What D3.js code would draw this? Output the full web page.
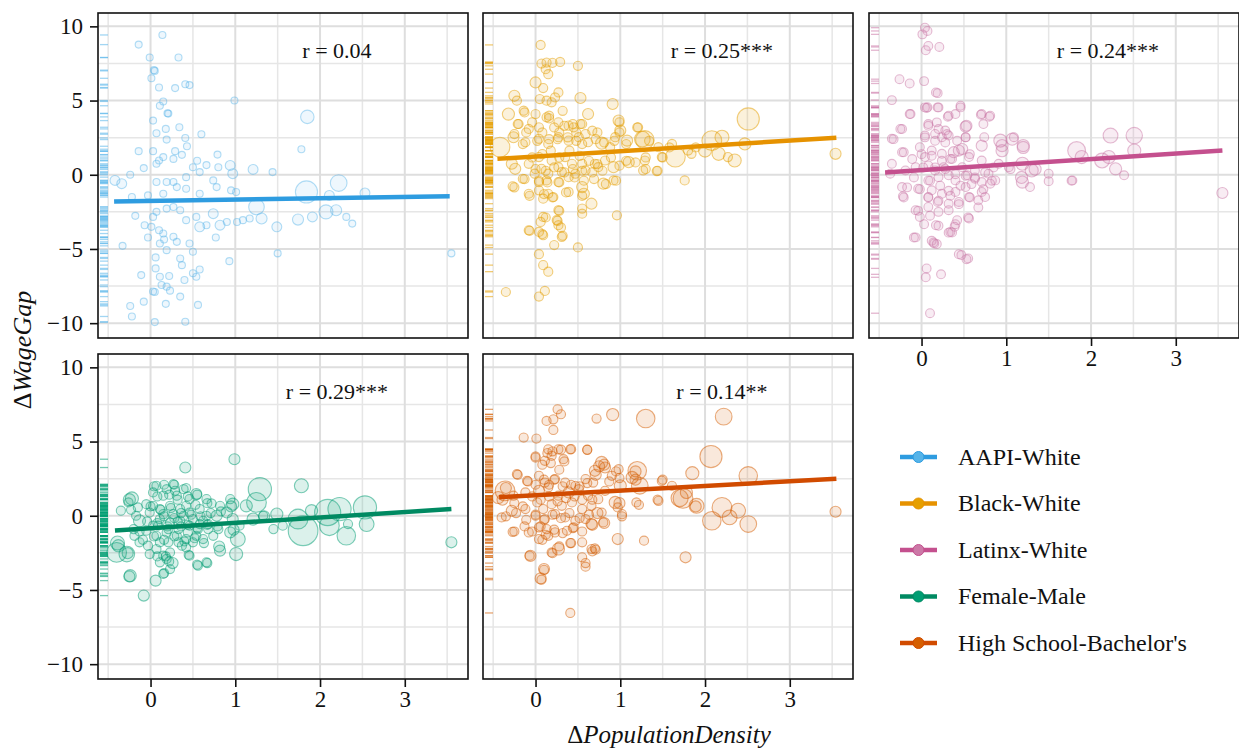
<!DOCTYPE html>
<html>
<head>
<meta charset="utf-8">
<script src="https://cdn.jsdelivr.net/npm/d3@7"></script>
<style>
  body { margin: 0; background: #fff; }
  text { font-family: "Liberation Serif", "DejaVu Serif", serif; fill: #111; }
</style>
</head>
<body>
<div id="chart"></div>
<script>
// Groups shown in the facets (same order as the legend)
const groups = ["AAPI-White", "Black-White", "Latinx-White", "Female-Male", "High School-Bachelor's"];
const groupColors = ["#56B4E9", "#E69F00", "#CC79A7", "#009E73", "#D55E00"];
const lineColors = ["#2E9CE0", "#E69200", "#C4508E", "#008A62", "#D14B00"];
const rLabels = ["r = 0.04", "r = 0.25***", "r = 0.24***", "r = 0.29***", "r = 0.14**"];
// typical bubble weight of each facet (points without their own weight)
const baseWeights = [1, 1.7, 1.6, 1.7, 1.7];

const xTicks = [0, 1, 2, 3];
const yTicks = [-10, -5, 0, 5, 10];

// [ΔPopulationDensity, ΔWageGap, weight]
const aapiPoints = [
  [0.14,9.42],[-0.14,8.77],[-0.01,7.9],[0.33,7.9],[0.04,7.05],[0.05,7.0],[0.01,6.5],[0.10,5.88],[0.29,5.84],
  [0.41,6.1],[0.46,6.04],[0.99,5.0],[0.15,4.94],[0.11,4.65],[0.2,4.14],[0.21,4.12],[0.03,3.65],[0.34,3.2],
  [0.18,3.09],[1.85,3.9,3.7],[0.07,2.8],[0.6,2.73],[0.41,2.48],[0.19,2.37],[0.43,1.92],[1.78,1.72],[-0.14,1.59],
  [0.03,1.59],[0.29,1.59],[0.79,1.36],[0.37,1.34],[0.15,1.19],[0.1,0.96],[0.27,1.07],[-0.08,0.45],[0.07,0.74],
  [0.55,0.94],[0.66,0.65],[0.8,0.51],[0.94,0.63,2],[1.21,0.36,2],[1.44,0.18],[-0.42,-0.38,2],[-0.34,-0.6,2],
  [-0.24,0],[0.07,-0.49],[0.19,-0.49],[0.27,-0.49],[0.42,-0.16],[0.5,0.51],[0.58,0.18],[0.74,-0.38],[0.97,0.07,2],
  [0.95,-1.05],[1.01,-1.16],[0.78,-0.83],[0.58,-1.28],[0.42,-0.94],[0.31,-0.83],[0.15,-1.28],[-0.03,-1.39],
  [-0.22,-1.5],[2.22,-0.56,5.7],[1.84,-1.16,10],[2.53,-1.23,2],[2.11,-1.39,2],[1.25,-2.17,5],[1.31,-2.95,2.5],
  [2.07,-2.5,4],[2.19,-2.39,2.5],[2.31,-2.84],[2.38,-3.29],[1.91,-2.84,2],[1.74,-3.02,2.5],[1.49,-3.51,2],
  [1.17,-2.95],[1.02,-3.18],[1.09,-3.06],[0.9,-3.18],[0.82,-3.4,2],[0.74,-2.62,2],[0.58,-3.51,2],[0.66,-3.4],
  [0.54,-2.84],[0.42,-3.06],[0.19,-2.28],[0.07,-2.5],[0.27,-2.17],[0.35,-2.39],[-0.18,-2.77],[0.03,-2.84],
  [-0.07,-3.4],[0.01,-3.51],[0.1,-3.74],[0.15,-3.96],[-0.03,-4.23],[0.11,-4.63],[0.16,-4.36],[0.27,-4.18],
  [0.31,-4.52],[0.46,-4.63],[0.77,-4.23],[-0.33,-4.79],[0.5,-5.19],[0.19,-5.08],[0.06,-5.57],[0.35,-5.64],
  [0.37,-6.09],[0.58,-6.38],[0.5,-6.64],[0.93,-5.82],[1.5,-5.3],[3.55,-5.3],[0.06,-6.31],[0.11,-6.87],[0.22,-6.82],
  [-0.11,-6.76],[0.13,-7.43],[0.19,-7.54],[0.23,-7.81],[0.03,-7.87],[0.05,-7.9],[0.4,-7.09],[0.54,-6.87],
  [0.35,-8.21],[-0.08,-8.55],[0.18,-8.7],[0.56,-8.77],[-0.24,-8.84],[-0.22,-9.55],[0.05,-9.93],[0.41,-9.91]
];

const blackPoints = [
  [0.06,8.75],[0.07,7.49],[0.13,7.56],[0.2,7.54],[0.29,7.6],[0.5,7.34],[0.12,7.11],[0.15,6.78],[0,6.22,2.5],
  [0.09,5.84],[0.27,5.55],[0.23,5.21],[0.05,5.1],[0.13,4.99],[0.19,4.88],[-0.25,5.32,2.5],[-0.22,4.99],[0.53,5.17,2.5],
  [0.91,4.77,2.5],[-0.32,4.09,3],[-0.14,4.32],[0,4.09],[0.13,3.87],[0.16,3.8],[0.27,3.53],[0.39,3.31],[0.45,3.2],
  [0.53,3.42],[0.62,4.09,2.5],[-0.2,3.42],[-0.08,3.09],[0.04,3.2],[0.98,3.65,2.5],[1.0,2.98,2.5],[1.21,3.2],[0.94,2.53],
  [-0.42,1.86,8],[-0.26,2.53,2.5],[-0.12,2.19],[0.04,2.42],[0.15,2.08],[0.27,2.53],[0.39,2.3],[0.51,2.53],[0.62,2.19],
  [0.78,2.13,3],[0.88,1.86],[1.08,2.3,2.5],[1.29,2.35,7],[1.45,1.86],[1.61,2.08],[1.8,1.63],[2.08,2.3,8],[2.2,2.53,4],
  [2.51,3.76,10],[2.47,2.08,3],[2.35,0.96,3.5],[2.27,1.19],[2.16,1.41,3.5],[2.0,1.63,3.5],[1.84,1.41],[1.65,1.19,8],
  [1.49,1.19],[1.29,0.96],[1.1,0.85,2.5],[3.54,1.41,2.5],[-0.28,0.74,2.5],[-0.24,0.4,2.5],[-0.08,0.74],[0.04,1.19],
  [0.07,0.4],[0.19,0.96],[0.27,0.51],[0.35,1.19],[0.43,0.74],[0.55,0.74],[0.59,0.29],[0.7,0.74],[0.82,0.96],
  [0.74,0.51],[0.92,0.51,2.5],[1.27,0.29],[1.43,0.25],[-0.01,0.07],[0.15,0.07],[0.31,0.18],[0.47,0.07],[-0.27,-0.78],
  [-0.15,-0.27],[0.04,-0.49],[0.13,-0.38],[0.27,-0.49],[0.39,-0.16],[0.55,-0.83,2.5],[0.8,-0.6,2.5],[0.92,-0.38],
  [1.76,-0.38],[0.04,-1.05],[0.15,-1.28],[0.09,-1.61],[-0.08,-1.28],[0.21,-1.5],[0.39,-1.16],[0.57,-1.28,2.5],
  [0.66,-1.95,2.5],[0.55,-2.28],[0.55,-2.62],[0.96,-2.73],[0.27,-2.39],[0.25,-3.06],[0.27,-3.4],[0.09,-2.84],
  [0.06,-3.18],[-0.08,-3.74],[0.04,-3.85],[0.09,-4.07],[0.31,-4.18],[0.22,-4.74],[0.5,-4.9],[0.04,-5.35],
  [0.09,-6.09],[0.15,-6.53],[-0.35,-7.9],[0.11,-7.83],[0.04,-8.21],
  [-0.13,4.2],[0.16,3.98],[0.32,4.31],[-0.21,3.42],[-0.04,3.53],[0.22,3.19],[0.34,3.3],[0.44,3.42],[0.55,3.42],
  [0.67,2.97],[0.73,2.85],[0.99,3.53],[0.99,2.85],[1.2,3.19],[-0.25,2.74],[-0.11,2.85],[0.08,2.85],[0.28,2.85],
  [0.48,2.85],[0.59,2.74],[-0.15,2.07],[0.02,2.29],[0.16,2.4],[0.26,2.4],[0.38,2.52],[0.48,2.29],[0.55,2.07],
  [0.71,2.4],[0.81,2.18],[0.93,2.29],[1.07,2.07],[1.26,2.4,5],[1.34,2.29],[1.58,1.84],[1.89,1.84],[-0.04,1.17],
  [0.08,1.39],[0.18,1.62],[0.28,1.17],[0.4,1.62],[0.52,1.28],[0.63,0.94],[0.73,0.72],[0.89,1.17],[1.07,0.94],
  [1.18,0.83],[1.3,1.17],[1.5,1.17],[0,0.38],[0.12,0.27],[0.22,0.49],[0.34,0.16],[0.44,0.38],[0.55,0.27],
  [0.67,0.16],[0.79,0.27],[0.99,0.61],[1.3,0.38],[1.44,0.27],[-0.13,-0.29],[0.04,-0.4],[0.14,-0.52],[0.28,-0.52],
  [0.46,-0.18],[0.57,-0.4],[0.69,-0.29],[0.83,-0.63],[0.95,-0.4],[-0.25,-0.85],[-0.07,-1.42],[0.1,-1.3],
  [0.2,-1.53],[0.36,-1.19],[0.55,-1.42],[0.28,-2.43],[0.12,-2.88],[0.26,-3.1],[0.3,-3.55],[-0.07,-3.78],
  [0.08,-4.0],[0.32,-4.11]
];

const latinxPoints = [
  [0.04,9.91],[0.07,9.69],[0.01,9.46],[0.08,8.68],[0.05,8.39],[0.21,8.61],[-0.26,6.44],[-0.14,6.15],[0.03,6.31],
  [-0.35,5.03],[0.17,5.55],[0.19,5.5],[0.06,4.5],[0.07,4.55],[0.19,4.54],[-0.14,4.09],[0.31,3.91],[0.4,4.09],
  [0.46,4.54],[0.7,4.05],[0.8,3.91],[0.08,3.42],[0.18,3.53],[-0.25,3.09],[0.52,3.24,2.5],[0.28,2.98],[0.04,2.64],
  [0.16,2.75],[0.24,2.53],[0.32,2.64],[-0.35,2.42],[0.52,2.53],[0.74,2.53],[0.93,2.3,3.5],[0.95,1.97,3],[1.09,2.53],
  [1.2,1.97,3],[2.23,2.64,4.5],[2.51,2.64,5.5],[2.51,1.63,3.5],[1.83,1.63,6.5],[1.89,1.19,3.5],[2.13,0.96,4.5],[2.21,1.19,3.5],
  [2.29,0.4,3],[2.39,-0.04],[1.78,-0.38],[1.5,0.07],[1.5,-0.43],[1.3,0.29,3.5],[1.19,0.74,3.5],[1.28,-0.83],
  [1.19,-0.49,3],[1.03,0.51],[0.91,0.74],[0.71,0.96],[0.79,0.07],[0.87,-0.38],[0.63,0.29],[0.56,1.19],
  [0.44,1.63,2.5],[0.38,1.52,2.5],[0.34,1.07],[0.24,1.41],[0.12,1.63],[0.04,1.19],[-0.02,1.86],[-0.23,1.52],
  [-0.35,0.74],[-0.37,0.07],[-0.19,0.29],[-0.07,0.51],[0.08,0.63],[0.16,0.29],[0.26,0.51],[0.32,-0.04],[0.48,0.51],
  [0.54,-0.04],[0.63,-0.27],[0.71,-0.49],[0.81,-0.6],[0.08,-0.38],[0.2,-0.16],[0.4,-0.38],[-0.23,-0.83],
  [-0.04,-0.94],[0.12,-1.05],[0.24,-1.28],[0.4,-1.16],[0.52,-0.83],[0.71,-1.16],[0.75,-1.5],[0.67,-1.72],
  [0.56,-1.5],[-0.22,-1.45],[0.08,-1.5],[0.19,-1.83],[0.32,-1.95],[0.44,-1.83],[0.08,-2.17],[-0.07,-2.39],
  [0.2,-2.5],[0.32,-2.39],[0.56,-2.95],[0.42,-3.06],[-0.02,-2.84],[0.17,-3.4],[0.34,-3.85],[0.32,-3.9],
  [0.39,-3.51],[-0.09,-4.23],[0.12,-4.45],[0.15,-4.63],[0.47,-5.41],[0.55,-5.64],[0.06,-6.31],[0.05,-6.91],
  [0.23,-6.71],[0.1,-9.33],[3.55,-1.23,2.5],
  [-0.13,4.09],[0.04,4.54],[0.2,4.54],[0.46,4.65],[0.32,3.98],[0.71,4.09],[0.81,3.98],[0.73,3.42],[0.53,3.3,2.5],
  [-0.23,3.08],[-0.33,2.4],[0.08,3.3],[0.2,3.08],[0.3,2.74],[0.04,2.52],[0.16,2.29],[0.28,2.18],[0.42,2.29],
  [0.52,2.52],[0.48,1.73,2.5],[0.57,1.39],[0.71,1.96,2.5],[1.07,2.4,3],[1.2,1.84,3],[0.95,1.62,3],[-0.21,1.51],
  [-0.11,1.06],[0,1.39],[0.12,1.28],[0.24,0.94],[0.36,1.06],[0.02,0.49],[0.16,0.49],[0.28,0.38],[0.4,0.04],
  [0.52,-0.07],[0.63,-0.18],[0.75,0.16],[0.85,0.49],[1.05,0.38],[1.18,-0.18,3],[1.34,0.38,3],[1.77,-0.4],
  [-0.09,-0.18],[0.1,-0.4],[0.22,-0.74],[0.32,-1.08],[0.46,-0.74],[0.59,-0.63],[0.73,-0.97],[0.83,-0.4],
  [-0.02,-0.97],[-0.17,-0.85],[0.08,-1.53],[0.2,-1.75],[0.34,-1.42],[0.44,-1.98],[0.57,-1.53],[0.67,-2.2],
  [-0.21,-1.53],[-0.04,-2.43],[0.1,-2.76],[0.03,-3.33],[0.2,-3.44],[0.4,-3.33],[0.55,-2.88],[0.36,-3.89],
  [-0.07,-4.22],[0.14,-4.56],[0.18,-4.67],[0.44,-5.35],[0.53,-5.69]
];

const femalePoints = [
  [0.99,3.81,2.5],[0.41,3.25,2.5],[1.78,2.02,4],[1.29,1.79,11],[1.25,0.9,8],[1.13,0.67,3],[0.97,0.78,3],
  [0.94,1.12],[0.82,0.67],[0.72,0.83],[0.54,1.46,2.5],[0.46,1.12],[0.27,2.13],[0.19,1.79],[0.07,2.02],[0.03,1.57],
  [0.15,1.35],[0.31,1.35],[0.39,1.79],[-0.22,1.17,3.5],[-0.26,0.9],[-0.35,0.34],[-0.15,0.56],[-0.05,0.78],
  [-0.13,-0.34,3],[-0.17,0],[-0.01,0.22],[0.11,0.45],[0.23,0.67],[0.35,0.45],[0.46,0.22],[0.58,0.45],[0.66,0],
  [0.78,0,2.5],[0.9,0.22,2.5],[0.97,-0.22,2.5],[1.21,-0.22,3],[1.33,0],[1.49,0.11,3],[1.45,-0.9],[1.56,-0.67],
  [1.74,-0.22,8],[1.8,-1.01,18],[1.9,0.34,3],[2.09,0.22,14],[2.11,-0.67,8],[2.23,0.45,11],[2.31,-1.35,7],
  [2.53,0.56,11],[2.55,-0.56,4.5],[2.33,-0.56],[3.55,-1.79,2.5],[0.11,-0.22],[0.23,-0.45],[0.35,-0.34],[0.46,-0.67],
  [0.58,-0.56],[0.68,-0.9],[0.8,-0.9],[0.94,-1.12,2.5],[1.03,-1.57,4.5],[1.05,-0.67],[0.03,-0.67],[-0.05,-1.01],
  [0.07,-1.35],[0.19,-1.12],[0.31,-1.35],[0.42,-1.57],[0.54,-1.35],[0.62,-1.57],[0.74,-1.35],[0.82,-2.35,2.5],
  [1.01,-2.58,3.5],[-0.38,-2.02,3],[-0.28,-2.58,5],[-0.4,-2.47,8],[-0.13,-1.79],[-0.01,-2.58],[0.07,-2.24],
  [0.15,-2.69],[0.23,-2.47],[0.37,-2.02],[0.5,-1.79],[0.56,-3.36],[0.66,-3.14],[0.46,-2.69],[0.11,-3.14],
  [0.19,-2.91],[0.23,-3.59],[0.15,-3.92],[0.06,-4.37,2.5],[-0.24,-4.04,3],[-0.08,-5.38,2.5],[-0.2,-0.9],[-0.19,-1.35],
  [0.03,0.67],[0.15,0.11],[0.27,0.11],[0.39,0],[0.5,-0.22],[0.62,-0.34],[0.09,-0.67],[0.21,-0.9],[0.33,-0.9],
  [0.44,-1.12],[0.56,-0.9],[0.68,-0.56],[0.21,-1.79],[0.33,-1.79],[0.42,-2.13],[-0.03,-2.02],[0.11,-1.79],
  [0.29,1.68],[0.42,0.67],[0.66,1.12],
  [-0.25,1.08,3],[-0.23,0.4],[0.04,1.98],[0.16,2.09],[0.28,2.09],[0.42,1.87],[0.08,1.3],[0.22,1.42],[0.32,1.08],
  [0.44,1.3],[0.55,1.42],[0.67,0.85],[0.53,0.74],[0,0.63],[0.12,0.4],[0.24,0.52],[0.36,0.18],[0.48,0.07],
  [0.59,-0.04],[0.71,0.18],[0.83,0.29],[0.95,0.63,2.5],[-0.04,-0.38],[0.08,-0.49],[0.2,-0.72],[0.32,-0.38],
  [0.44,-0.61],[0.55,-0.83],[0.67,-0.61],[0.79,-0.72],[0.98,-0.94,2.5],[0.04,-1.39],[0.16,-1.62],[0.28,-1.39],
  [0.4,-1.73],[0.52,-1.51],[0.63,-1.84],[0.81,-2.07,2.5],[-0.09,-1.62],[-0.13,-1.06],[-0.39,-1.84,4],
  [-0.27,-2.52,2.5],[0.08,-2.74],[0.22,-3.08],[0.18,-2.74],[0.26,-3.19,2.5],[0.45,-2.63],[0.55,-3.3],
  [0.67,-3.19],[0.16,-3.87],[-0.25,-4.09,2.5],[0.36,-0.72],[0.16,-0.04],[0.28,-0.16],[1.34,-0.04,2.5]
];

const hsPoints = [
  [0.26,7.17],[0.3,6.84],[0.13,6.39],[0.21,6.5],[0.21,5.78],[0.72,6.55],[0.91,6.82,3],[1.3,6.55,7],[2.22,6.68,5.7],
  [-0.14,5.27],[0.01,5.2],[2.07,3.99,10],[0.15,4.48],[0.27,4.48],[0.41,4.48],[0.61,4.44],[0,3.92],[0.11,3.7],
  [0.19,4.04],[0.33,3.81],[0.78,3.59,3],[0.7,3.03,2.5],[0.82,3.25,2.5],[0.98,3.14],[1.2,3.03,7],[1.14,2.58,3],
  [1.85,2.87,3.5],[2.51,2.69,7],[-0.22,2.8],[-0.1,2.35],[0.04,2.69],[0.11,2.24],[0.23,2.47],[0.35,2.24],[0.47,2.02],
  [0.59,2.47],[0.68,2.24],[0.9,2.69],[1.0,2.02,3],[1.23,2.02,5.7],[1.49,2.35],[1.61,2.02],[-0.36,1.68,8],
  [-0.44,1.23,3],[-0.26,1.35],[-0.12,1.57],[0.04,1.68,2.5],[0.15,1.91],[0.27,1.35],[0.39,1.57,2.5],[0.51,1.79],
  [0.62,1.35],[0.74,1.12],[0.82,1.68],[0.94,0.9,3],[0.97,0.56],[1.02,0.11],[1.19,0.9],[1.45,1.01],[1.74,1.17,8],
  [1.78,1.57,3],[1.9,0.67,4.5],[2.08,-0.34,7],[2.2,0.56,8],[2.29,-0.11,4.5],[2.39,0.34,4.5],[2.51,-0.56,5.7],
  [3.54,0.27,2.5],[-0.4,-0.11],[-0.28,0.34,2.5],[-0.12,0.45],[0.02,0.9],[0.09,0.45],[0.19,0.78],[0.31,0.67],[0.43,0.9],
  [0.55,0.45],[0.66,0.67],[0.78,0.22],[0,0],[0.11,-0.22],[0.23,0.11],[0.35,-0.11],[0.47,-0.34],[0.59,-0.22],
  [0.66,-0.56,2.5],[0.8,-0.45],[-0.27,-1.08],[-0.08,-1.12],[0.04,-0.78],[0.13,-0.9],[0.23,-1.12],[0.37,-1.01],
  [0.45,-0.78],[0.04,-1.57],[0.15,-1.35],[0.27,-2.24,3],[0.19,-2.47],[0.41,-1.84],[0.55,-1.79],[0.97,-1.57,2.5],
  [1.28,-1.68],[-0.07,-2.69],[0.66,-2.24],[0.7,-2.2],[0.55,-2.8],[0.59,-3.43],[1.77,-2.8,2.5],[0.1,-3.59,2.5],
  [0.06,-4.22,2.5],[0.41,-6.55],
  [0.42,4.49],[0.61,4.45],[0,4.0],[0.14,4.22],[0.2,4.34],[0.3,4.45],[0.08,3.44],[0.18,3.55],[0.34,3.66],[0.28,3.1],
  [0.75,3.33,2.5],[0.81,3.44,2.5],[0.71,2.76,2.5],[0.95,2.99],[0.99,2.54],[1.18,2.99,2.5],[1.18,2.43,2.5],[1.5,2.43],
  [-0.21,2.76],[-0.09,2.31],[0,2.09],[0.1,2.43],[0.16,2.09],[0.22,2.43],[0.32,1.98],[0.42,2.09],[0.52,1.98],
  [0.61,2.2],[0.87,2.31],[-0.35,1.87,2.5],[-0.39,1.08,2.5],[-0.25,0.85],[-0.15,0.63],[-0.04,1.3],[0.06,1.08],
  [0.16,1.3],[0.26,0.97],[0.36,1.19],[0.46,1.3],[0.55,1.08],[0.67,1.08],[0.99,0.85,2.5],[1.22,0.74],[1.44,1.08],
  [1.7,1.19,6],[1.89,0.63,2.5],[-0.35,-0.04],[-0.23,0.18],[-0.11,-0.27],[0,0.07],[0.1,-0.27],[0.2,0.07],
  [0.3,-0.16],[0.4,0.18],[0.52,-0.16],[0.63,0.07],[0.73,0.18,2.5],[1.02,-0.04],[-0.25,-1.06],[-0.13,-0.72],
  [-0.04,-1.06],[0.06,-0.72],[0.12,-1.28],[0.22,-0.94],[0.32,-1.17],[0.44,-0.83],[0.55,-1.06],[0.81,-0.49,2.5],
  [0.67,-0.61,2.5],[0.08,-1.62],[0.28,-2.07],[0.42,-1.84],[-0.06,-2.7,2.5],[0.2,-2.52],[0.59,-3.19],
  [0.67,-2.4],[0.71,-2.29],[0.1,-3.64],[0.07,-4.31]
];

// Fitted line end points per group: [x0, y0, x1, y1]
const fitLines = [
  [-0.43, -1.8, 3.53, -1.45],
  [-0.45, 1.07, 3.55, 2.5],
  [-0.43, 0.16, 3.55, 1.63],
  [-0.42, -1.0, 3.55, 0.45],
  [-0.43, 1.25, 3.55, 2.5]
];

const allPoints = [aapiPoints, blackPoints, latinxPoints, femalePoints, hsPoints];

// Layout
const panelW = 370, panelH = 325;
const panelLefts = [98, 483, 869];
const panelTops = [13, 354];
const serif = "'Liberation Serif', 'DejaVu Serif', serif";

const svg = d3.select("#chart").append("svg")
  .attr("width", 1239)
  .attr("height", 752);

const xScale = d3.scaleLinear().domain([-0.62, 3.746]).range([0, panelW]);
const yScale = d3.scaleLinear().domain([-11, 10.9]).range([panelH, 0]);
const rScale = d3.scaleSqrt().domain([0, 1]).range([0, 3.5]);

function drawPanel(i) {
  const col = i % 3, row = Math.floor(i / 3);
  const color = groupColors[i];
  const g = svg.append("g")
    .attr("transform", "translate(" + panelLefts[col] + "," + panelTops[row] + ")");

  // clip so the panel content stays inside the border
  g.append("clipPath").attr("id", "clip" + i)
    .append("rect").attr("width", panelW).attr("height", panelH);

  const inner = g.append("g").attr("clip-path", "url(#clip" + i + ")");

  // minor + major grid
  const xMinor = [-0.5, 0.5, 1.5, 2.5, 3.5];
  const yMinor = [-7.5, -2.5, 2.5, 7.5];
  inner.selectAll("line.xminor").data(xMinor).enter().append("line")
    .attr("x1", d => xScale(d)).attr("x2", d => xScale(d))
    .attr("y1", 0).attr("y2", panelH)
    .style("stroke", "#e6e6e6").style("stroke-width", 1.5);
  inner.selectAll("line.yminor").data(yMinor).enter().append("line")
    .attr("y1", d => yScale(d)).attr("y2", d => yScale(d))
    .attr("x1", 0).attr("x2", panelW)
    .style("stroke", "#e6e6e6").style("stroke-width", 1.5);
  inner.selectAll("line.xmajor").data(xTicks).enter().append("line")
    .attr("x1", d => xScale(d)).attr("x2", d => xScale(d))
    .attr("y1", 0).attr("y2", panelH)
    .style("stroke", "#dedede").style("stroke-width", 2);
  inner.selectAll("line.ymajor").data(yTicks).enter().append("line")
    .attr("y1", d => yScale(d)).attr("y2", d => yScale(d))
    .attr("x1", 0).attr("x2", panelW)
    .style("stroke", "#dedede").style("stroke-width", 2);

  const pts = allPoints[i];
  const w = d => (d[2] === undefined ? baseWeights[i] : d[2]);

  // bubbles
  inner.selectAll("circle.pt").data(pts).enter().append("circle")
    .attr("cx", d => xScale(d[0]))
    .attr("cy", d => yScale(d[1]))
    .attr("r", d => rScale(w(d)))
    .style("fill", color).style("fill-opacity", i === 0 ? 0.1 : 0.14)
    .style("stroke", color).style("stroke-opacity", i === 0 ? 0.45 : 0.5)
    .style("stroke-width", 1.1);

  // rug on the left side
  inner.selectAll("line.rug").data(pts).enter().append("line")
    .attr("x1", 2).attr("x2", 10)
    .attr("y1", d => yScale(d[1])).attr("y2", d => yScale(d[1]))
    .style("stroke", color).style("stroke-opacity", 0.55)
    .style("stroke-width", 1.3);

  // fitted line
  const f = fitLines[i];
  inner.append("line")
    .attr("x1", xScale(f[0])).attr("y1", yScale(f[1]))
    .attr("x2", xScale(f[2])).attr("y2", yScale(f[3]))
    .style("stroke", lineColors[i])
    .style("stroke-width", 4.5);

  // correlation label
  g.append("text")
    .attr("x", xScale(2.2)).attr("y", yScale(7.9))
    .attr("text-anchor", "middle")
    .style("font-size", "22px")
    .text(rLabels[i]);

  // border
  g.append("rect")
    .attr("width", panelW).attr("height", panelH)
    .style("fill", "none").style("stroke", "#111").style("stroke-width", 1.6);

  // y axis on left column
  if (col === 0) {
    const yAxis = d3.axisLeft(yScale).tickValues(yTicks).tickSize(8).tickPadding(7);
    const ya = g.append("g").call(yAxis)
      .attr("font-family", serif).attr("font-size", 23);
    ya.select(".domain").remove();
    ya.selectAll("line").style("stroke", "#111").style("stroke-width", 1.6);
    ya.selectAll("text").style("fill", "#111");
  }
  // x axis on bottom panels (panel 3 has no panel under it)
  if (row === 1 || i === 2) {
    const xAxis = d3.axisBottom(xScale).tickValues(xTicks).tickFormat(d3.format("d"))
      .tickSize(8).tickPadding(4);
    const xa = g.append("g").attr("transform", "translate(0," + panelH + ")").call(xAxis)
      .attr("font-family", serif).attr("font-size", 23);
    xa.select(".domain").remove();
    xa.selectAll("line").style("stroke", "#111").style("stroke-width", 1.6);
    xa.selectAll("text").style("fill", "#111");
  }
}

groups.forEach((d, i) => drawPanel(i));

// Axis titles
const yTitle = svg.append("text")
  .attr("transform", "translate(31,350) rotate(-90)")
  .attr("text-anchor", "middle")
  .style("font-size", "26px");
yTitle.append("tspan").text("Δ");
yTitle.append("tspan").style("font-style", "italic").text("WageGap");

const xTitle = svg.append("text")
  .attr("x", 669).attr("y", 743)
  .attr("text-anchor", "middle")
  .style("font-size", "25px");
xTitle.append("tspan").text("Δ");
xTitle.append("tspan").style("font-style", "italic").text("PopulationDensity");

// Legend
const legend = svg.append("g").attr("transform", "translate(900,457)");
const item = legend.selectAll("g.item").data(groups).enter().append("g")
  .attr("transform", (d, i) => "translate(0," + (i * 46.5) + ")");
item.append("line")
  .attr("x1", 0).attr("x2", 37).attr("y1", 0).attr("y2", 0)
  .style("stroke", (d, i) => lineColors[i])
  .style("stroke-width", 4.5);
item.append("circle")
  .attr("cx", 18.5).attr("cy", 0).attr("r", 5.5)
  .style("fill", (d, i) => groupColors[i])
  .style("stroke", (d, i) => lineColors[i])
  .style("stroke-width", 1);
item.append("text")
  .attr("x", 58).attr("y", 0).attr("dy", "0.33em")
  .style("font-size", "24px")
  .text(d => d);
</script>
</body>
</html>
